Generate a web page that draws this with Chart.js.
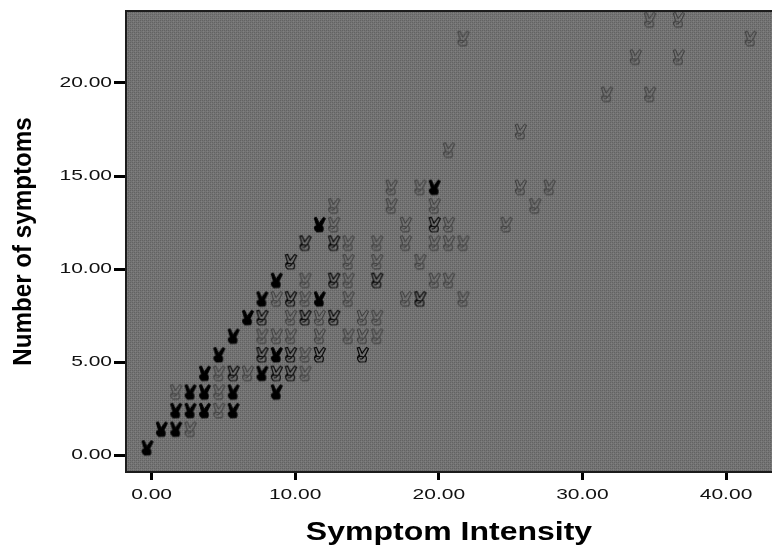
<!DOCTYPE html>
<html><head><meta charset="utf-8">
<style>html,body{margin:0;padding:0;background:#fff}canvas{display:block}</style>
<script src="https://cdn.jsdelivr.net/npm/chart.js@4"></script>
</head><body><canvas id="c" width="772" height="548"></canvas>
<script>
const xTitle = "Symptom Intensity";
const yTitle = "Number of symptoms";
const xTicks = [0, 10, 20, 30, 40];
const yTicks = [0, 5, 10, 15, 20];
// [intensity, number of symptoms], grouped by how dark the overplotted mark looks
const lightPoints = [[3,1],[5,2],[2,3],[5,3],[5,4],[7,4],[11,4],[11,5],[8,6],[9,6],[10,6],[12,6],[14,6],[15,6],[16,6],
 [10,7],[12,7],[15,7],[16,7],[9,8],[11,8],[14,8],[18,8],[22,8],[11,9],[14,9],[20,9],[21,9],[14,10],[16,10],[19,10],
 [14,11],[16,11],[18,11],[20,11],[21,11],[22,11],[13,12],[18,12],[21,12],[13,13],[17,13],[20,13],[17,14],[19,14],
 [21,16],[22,22],[26,17],[26,14],[28,14],[27,13],[25,12],[32,19],[35,19],[34,21],[37,21],[35,23],[37,23],[42,22]];
const midPoints = [[6,4],[9,4],[10,4],[8,5],[10,5],[12,5],[8,7],[11,7],[13,7],[10,8],[19,8],[13,9],[16,9],[10,10],[11,11],[13,11],[20,12],[15,5]];
const heavyPoints = [[0,0],[1,1],[2,1],[2,2],[3,2],[4,2],[6,2],[3,3],[4,3],[6,3],[9,3],[4,4],[8,4],[5,5],[9,5],[6,6],[7,7],[8,8],[12,8],[9,9],[12,12],[20,14]];

function glyph(lineWidth, color, fill){
  const c = document.createElement('canvas'); c.width = 40; c.height = 40;
  const g = c.getContext('2d');
  // the source package draws its marks up and to the left of the data position
  g.translate(20-4.5, 20-7);
  g.strokeStyle = color; g.fillStyle = color; g.lineWidth = lineWidth; g.lineJoin='miter'; g.lineCap='butt';
  const hand = new Path2D('M-3,0.4 L-5.2,-7 L-3,-7.6 L-0.4,-1.6 L4,-7.6 L6,-6.4 L2.6,0.6 C4,1.6 4,4.6 3.2,6.8 L-2.8,7 C-4.8,6 -5.4,3 -4.6,1.6 C-4.2,1 -3.6,0.6 -3,0.4 Z');
  const detail = new Path2D('M-4.8,2.6 C-3,1.2 -0.8,1.2 0.8,2.2 C0.6,3.8 -1.2,4.2 -2.8,3.8 M2.6,0.6 L0.8,2.2');
  if(fill){ g.fill(hand); }
  g.stroke(hand); g.stroke(detail);
  return c;
}
const toXY = a => a.map(p => ({x:p[0], y:p[1]}));
const canvas = document.getElementById('c');
const ctx = canvas.getContext('2d');
const nativeFill = ctx.fillText.bind(ctx);
// the reference's type is stretched sideways (axis titles slightly, tick labels a lot)
ctx.fillText = function(t,x,y){
  const f = t===xTitle ? 1.28 : t===yTitle ? 0.93 : 1.5;
  ctx.save(); ctx.translate(x,y); ctx.scale(f,1); nativeFill(t,0,0); ctx.restore();
};
const dots = document.createElement('canvas'); dots.width=4; dots.height=4;
{const g=dots.getContext('2d'); g.fillStyle='#747474'; g.fillRect(0,0,4,4);
 g.fillStyle='#626262'; [[0,0],[2,0],[0,2],[2,2]].forEach(p=>g.fillRect(p[0],p[1],1,1));
 g.fillStyle='#808080'; [[1,1],[3,3]].forEach(p=>g.fillRect(p[0],p[1],1,1));}
const panel = {id:'panel',
  beforeDatasetsDraw(ch){const {left,top,right,bottom}=ch.chartArea; const c=ch.ctx; c.save();
    c.fillStyle=c.createPattern(dots,'repeat'); c.fillRect(left,top,right-left,bottom-top);
    c.strokeStyle='#1c1c1c'; c.lineWidth=2; c.strokeRect(left,top,right-left+4,bottom-top); c.restore();}};
const ds = (d,img)=>({data:toXY(d),pointStyle:img,pointRadius:10,showLine:false,clip:false});
new Chart(ctx,{type:'scatter',
 data:{datasets:[ds(lightPoints,glyph(0.8,'#2c2c2c',false)),ds(midPoints,glyph(1.15,'#050505',false)),ds(heavyPoints,glyph(1,'#000',true))]},
 plugins:[panel],
 options:{responsive:false,animation:false,devicePixelRatio:1,
  layout:{autoPadding:false,padding:{top:11,right:0,left:0,bottom:0}},
  plugins:{legend:{display:false},tooltip:{enabled:false}},
  scales:{
   x:{type:'linear',min:-1.78,max:43.2,afterBuildTicks(a){a.ticks=xTicks.map(v=>({value:v}));},
    afterFit(a){a.height=76;},
    grid:{drawOnChartArea:false,tickLength:8,tickWidth:3,tickColor:'#000'},border:{display:false},
    ticks:{color:'#111',font:{family:'"Liberation Sans"',size:14},padding:7,maxRotation:0,autoSkip:false,callback:v=>v.toFixed(2)},
    title:{display:true,text:xTitle,color:'#000',font:{family:'"Liberation Sans"',size:25,weight:'bold'},padding:{top:10,bottom:0}}},
   y:{type:'linear',min:-0.91,max:23.87,afterBuildTicks(a){a.ticks=yTicks.map(v=>({value:v}));},
    afterFit(a){a.width=126;},
    grid:{drawOnChartArea:false,tickLength:12,tickWidth:3,tickColor:'#000'},border:{display:false},
    ticks:{color:'#111',font:{family:'"Liberation Sans"',size:14},padding:2,autoSkip:false,callback:v=>v.toFixed(2)},
    title:{display:true,text:yTitle,color:'#000',font:{family:'"Liberation Sans"',size:26,weight:'bold'},padding:{top:8,bottom:0}}}
  }}});
</script></body></html>
